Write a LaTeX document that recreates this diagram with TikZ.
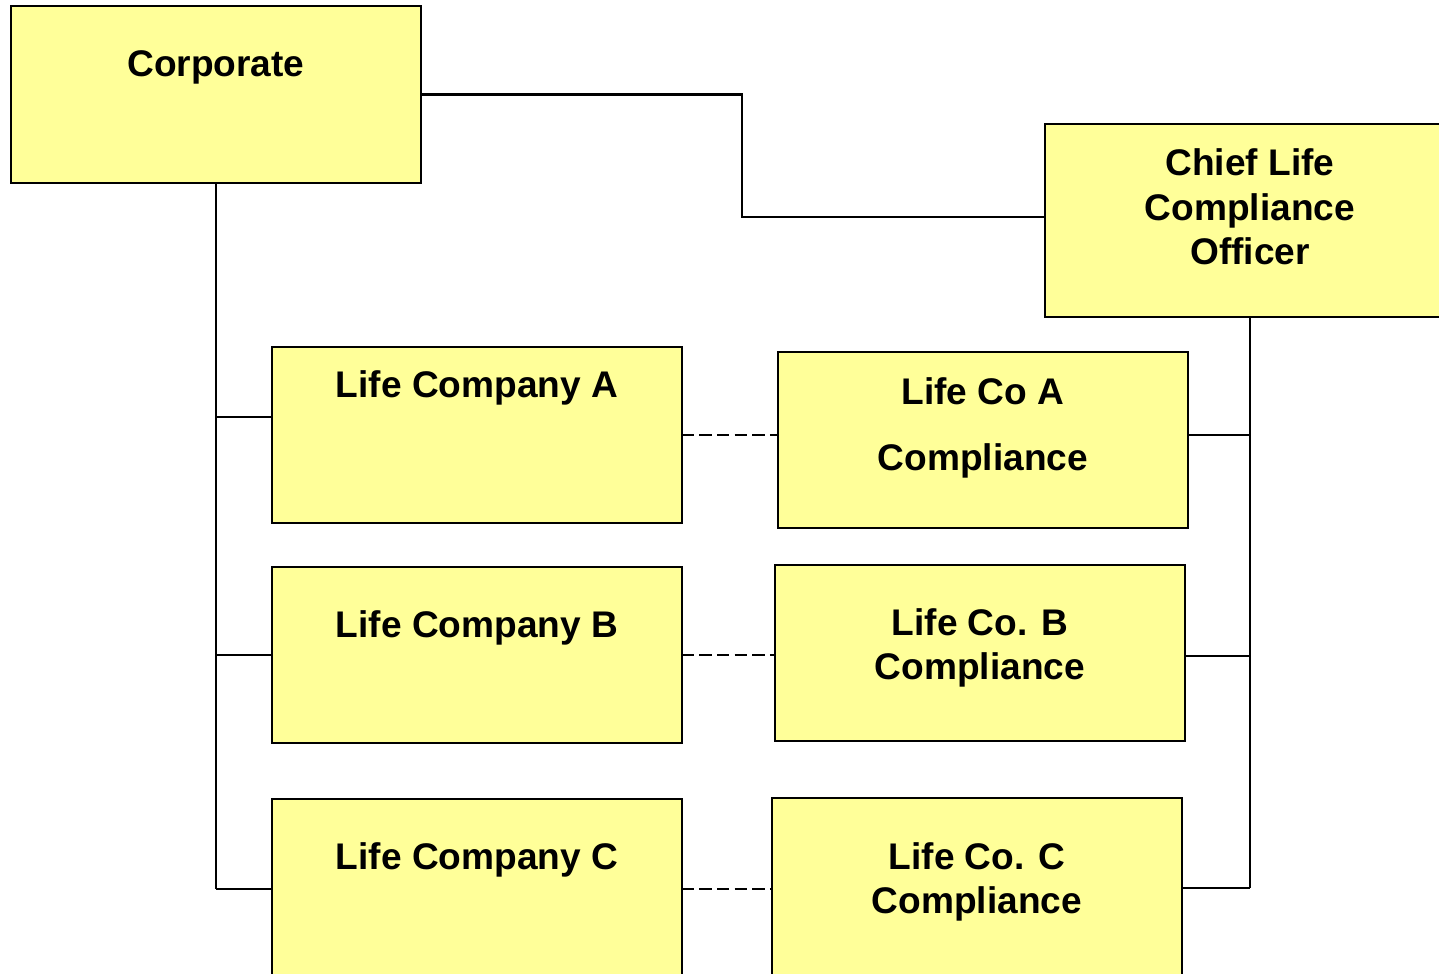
\documentclass[tikz,border=0pt]{standalone}
\usepackage{fontspec}
\setmainfont{Liberation Sans}
\usepackage{xcolor}
\usetikzlibrary{calc}
\definecolor{boxyellow}{HTML}{FFFF99}

\begin{document}
\begin{tikzpicture}
        [   x = 0.02cm
        ,   y = -0.02cm
        ,   unit/.style =
            {   draw, fill = boxyellow, line width = 1.2pt
            ,   minimum width = 8.2cm, minimum height = 3.52cm
            ,   anchor = north west, inner sep = 0pt, outer sep = 0pt
            }
        ,   title/.style =
            {   anchor = base, align = center, inner sep = 0pt
            ,   font = \fontsize{21.1}{25.5}\selectfont\bfseries
            }
        ,   link/.style = { line width = 1.2pt }
        ,   spine/.style = { line width = 1.5pt }
        ,   peer/.style = { line width = 1.2pt, dash pattern = on 7pt off 3pt }
        ]
        \useasboundingbox (0,0) rectangle (1439,973);
        \clip (0,0) rectangle (1439,973);

        % boxes
        \node[unit, minimum height = 3.54cm] (corp) at (11,6) {};
        \node[unit, minimum height = 3.86cm] (chief) at (1045,124) {};
        \node[unit] (lcA) at (272,347) {};
        \node[unit] (ccA) at (778,352) {};
        \node[unit] (lcB) at (272,567) {};
        \node[unit] (ccB) at (775,565) {};
        \node[unit, minimum height = 3.6cm] (lcC) at (272,799) {};
        \node[unit, minimum height = 3.6cm] (ccC) at (772,798) {};

        % titles (base = last line)
        \node[title] (corpT) at ([yshift=-1.42cm]corp.north) {Corporate};
        \node[title] (chiefT) at ([yshift=-2.82cm]chief.north) {Chief Life\\Compliance\\Officer};
        \node[title] (lcAT) at ([yshift=-1.02cm]lcA.north) {Life Company A};
        \node[title] (ccAT) at ([yshift=-2.38cm]ccA.north) {Life Co A\\[0.44cm]Compliance};
        \node[title] (lcBT) at ([yshift=-1.42cm]lcB.north) {Life Company B};
        \node[title] (ccBT) at ([yshift=-2.30cm]ccB.north) {Life Co. B\\Compliance};
        \node[title] (lcCT) at ([yshift=-1.42cm]lcC.north) {Life Company C};
        \node[title] (ccCT) at ([yshift=-2.32cm]ccC.north) {Life Co. C\\Compliance};

        % corporate to chief
        \coordinate (bend) at (742,0);
        \coordinate (chiefIn) at ([yshift=0.07cm]chief.west);
        \draw[link] (corp.east) -- (corp.east -| bend) |- (chiefIn);

        % left tree
        \coordinate (jA) at ([yshift=0.36cm]lcA.west);
        \draw[spine] (corp.south) -- (corp.south |- lcC.west);
        \draw[link] (corp.south |- jA) -- (jA);
        \draw[link] (corp.south |- lcB.west) -- (lcB.west);
        \draw[link] (corp.south |- lcC.west) -- (lcC.west);

        % right tree
        \coordinate (kA) at ([yshift=0.1cm]ccA.east);
        \coordinate (kB) at ([yshift=-0.06cm]ccB.east);
        \draw[link] (chief.south) -- (chief.south |- ccC.east);
        \draw[link] (chief.south |- kA) -- (kA);
        \draw[link] (chief.south |- kB) -- (kB);
        \draw[link] (chief.south |- ccC.east) -- (ccC.east);

        % dotted lines
        \draw[peer] (lcA.east) -- (lcA.east -| ccA.west);
        \draw[peer] (lcB.east) -- (lcB.east -| ccB.west);
        \draw[peer] (lcC.east) -- (lcC.east -| ccC.west);
    \end{tikzpicture}
\end{document}
